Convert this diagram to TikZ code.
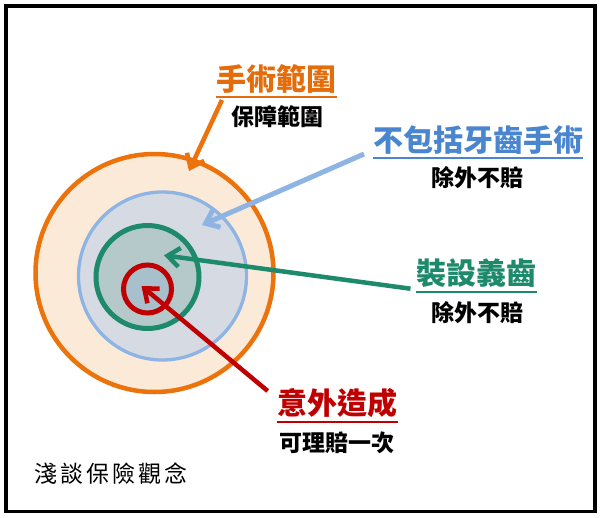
\documentclass[tikz,border=0pt]{standalone}
\usepackage{fontspec}
\newfontfamily\cjk{Noto Sans CJK TC}
\usetikzlibrary{arrows.meta}
\definecolor{orangeL}{RGB}{236,114,12}
\definecolor{orangeT}{RGB}{228,108,10}
\definecolor{peach}{RGB}{252,234,217}
\definecolor{blueL}{RGB}{142,180,227}
\definecolor{blueF}{RGB}{213,218,227}
\definecolor{blueT}{RGB}{74,134,207}
\definecolor{greenL}{RGB}{30,138,108}
\definecolor{greenF}{RGB}{181,201,203}
\definecolor{redL}{RGB}{192,0,0}
\definecolor{redF}{RGB}{168,191,204}
\begin{document}
\begin{tikzpicture}[x=1pt,y=-1pt,
  ring/.style={circle, inner sep=0pt, outer sep=0pt},
  title/.style={inner sep=0pt, font=\cjk\bfseries\fontsize{30}{30}\selectfont},
  sub/.style={inner sep=0pt, font=\cjk\bfseries\fontsize{23}{23}\selectfont},
  ul/.style={line width=2pt},
  arr/.style={line width=4.5pt, -{Straight Barb[length=12pt,width=19pt]}}]
\useasboundingbox (0,0) rectangle (600,517);
\fill[white] (0,0) rectangle (600,517);
\draw[line width=3.3pt] (6,6) rectangle (595,511.5);
% circles
\node[ring, draw=orangeL, fill=peach, line width=4.5pt, minimum size=238pt] (c1) at (154.5,273) {};
\node[ring, draw=blueL, fill=blueF, line width=3.3pt, minimum size=168pt] (c2) at (162.5,276) {};
\node[ring, draw=greenL, fill=greenF, line width=5pt, minimum size=103pt] (c3) at (147.5,277) {};
\node[ring, draw=redL, fill=redF, line width=5pt, minimum size=48pt] (c4) at (147.5,289) {};
% arrow end points
\coordinate (a1s) at (222,100); \coordinate (a1e) at (189,171);
\coordinate (a2s) at (364,154); \coordinate (a2e) at (202,225);
\coordinate (a3s) at (410.5,288.7); \coordinate (a3e) at (164,255.3);
\coordinate (a4s) at (267.7,391); \coordinate (a4e) at (141.5,286);
\draw[arr, draw=orangeL] (a1s) -- (a1e);
\draw[arr, draw=blueL, line width=5pt] (a2s) -- (a2e);
\draw[arr, draw=greenL] (a3s) -- (a3e);
\draw[arr, draw=redL] (a4s) -- (a4e);
% labels
\node[title, text=orangeT] (t1) at (276.5,79) {手術範圍};
\draw[ul, draw=orangeT] ([yshift=-18pt]t1.west) -- ([yshift=-18pt]t1.east);
\node[sub] (s1) at (277,116.5) {保障範圍};
\node[title, text=blueT] (t2) at (478,140) {不包括牙齒手術};
\draw[ul, draw=blueT] ([yshift=-17.5pt]t2.west) -- ([yshift=-17.5pt]t2.east);
\node[sub] (s2) at (477,178) {除外不賠};
\node[title, text=greenL] (t3) at (476.3,273.3) {裝設義齒};
\draw[ul, draw=greenL] ([yshift=-18.5pt]t3.west) -- ([yshift=-18.5pt]t3.east);
\node[sub] (s3) at (477,312.5) {除外不賠};
\node[title, text=redL] (t4) at (337.5,403.3) {意外造成};
\draw[ul, draw=redL] ([yshift=-18.5pt]t4.west) -- ([yshift=-18.5pt]t4.east);
\node[sub] (s4) at (336.7,443.3) {可理賠一次};
\node[inner sep=0pt, font=\cjk\fontsize{23}{23}\selectfont] (cap) at (111,474) {淺\hspace{3pt}談\hspace{3pt}保\hspace{3pt}險\hspace{3pt}觀\hspace{3pt}念};
\end{tikzpicture}
\end{document}
